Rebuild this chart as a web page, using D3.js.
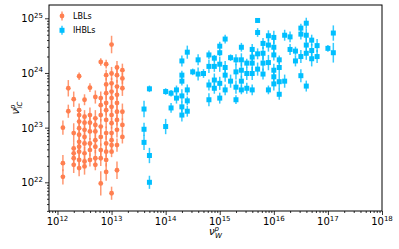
<!DOCTYPE html>
<html>
<head>
<meta charset="utf-8">
<script src="https://cdn.jsdelivr.net/npm/d3@7"></script>
<style>
  body { margin: 0; background: #fff; }
  text { font-family: "DejaVu Sans", sans-serif; }
</style>
</head>
<body>
<div id="chart"></div>
<script>
// values are log10 of the frequencies
var lblLogNuW = [
  12.1, 12.1, 12.1,
  12.2, 12.2,
  12.3, 12.3, 12.3, 12.3, 12.3, 12.3,
  12.4, 12.4, 12.4, 12.4, 12.4, 12.4, 12.4, 12.4, 12.4, 12.4, 12.4,
  12.5, 12.5, 12.5, 12.5, 12.5, 12.5, 12.5, 12.5, 12.5,
  12.6, 12.6, 12.6, 12.6, 12.6, 12.6, 12.6,
  12.7, 12.7, 12.7, 12.7, 12.7, 12.7, 12.7, 12.7,
  12.8, 12.8, 12.8, 12.8, 12.8, 12.8, 12.8, 12.8, 12.8,
  12.9, 12.9, 12.9, 12.9, 12.9, 12.9, 12.9, 12.9, 12.9, 12.9, 12.9, 12.9,
  13.0, 13.0, 13.0, 13.0, 13.0, 13.0, 13.0, 13.0, 13.0, 13.0, 13.0, 13.0, 13.0,
  13.1, 13.1, 13.1, 13.1, 13.1, 13.1, 13.1, 13.1, 13.1, 13.1,
  13.2, 13.2, 13.2, 13.2, 13.2, 13.2
]
var lblLogNuIC = [
  23.00, 22.35, 22.10,
  23.72, 23.30,
  23.52, 22.90, 22.62, 22.53, 22.44, 22.32,
  23.94, 23.32, 23.23, 23.11, 22.99, 22.87, 22.74, 22.65, 22.56, 22.41, 22.26,
  23.51, 23.20, 23.09, 22.96, 22.83, 22.71, 22.53, 22.38, 22.29,
  23.73, 23.23, 23.09, 22.93, 22.71, 22.59, 22.41,
  23.56, 23.17, 23.05, 22.93, 22.77, 22.65, 22.44, 22.32,
  24.20, 23.54, 23.41, 23.23, 23.02, 22.83, 22.59, 22.44, 21.98,
  24.16, 23.96, 23.79, 23.63, 23.45, 23.32, 23.14, 22.90, 22.71, 22.56, 22.41, 22.19,
  24.52, 23.99, 23.81, 23.66, 23.54, 23.38, 23.23, 23.08, 22.90, 22.77, 22.68, 22.56, 21.80,
  24.10, 23.96, 23.75, 23.60, 23.45, 23.29, 23.14, 22.96, 22.68, 22.22,
  24.05, 23.90, 23.72, 23.29, 23.05, 22.83
]
var lblErr = [
  0.13, 0.15, 0.14,
  0.15, 0.12,
  0.14, 0.18, 0.10, 0.10, 0.12, 0.15,
  0.07, 0.12, 0.10, 0.12, 0.15, 0.10, 0.12, 0.10, 0.14, 0.12, 0.15,
  0.10, 0.12, 0.15, 0.12, 0.10, 0.14, 0.12, 0.10, 0.15,
  0.08, 0.14, 0.12, 0.15, 0.10, 0.12, 0.12,
  0.12, 0.15, 0.10, 0.12, 0.14, 0.12, 0.15, 0.10,
  0.07, 0.12, 0.15, 0.12, 0.14, 0.16, 0.12, 0.14, 0.22,
  0.08, 0.10, 0.12, 0.12, 0.14, 0.10, 0.15, 0.12, 0.14, 0.10, 0.12, 0.16,
  0.16, 0.12, 0.10, 0.12, 0.14, 0.12, 0.15, 0.10, 0.12, 0.14, 0.12, 0.10, 0.12,
  0.12, 0.14, 0.12, 0.10, 0.15, 0.12, 0.10, 0.14, 0.12, 0.16,
  0.12, 0.10, 0.14, 0.15, 0.12, 0.12
]

var ihblLogNuW = [
  13.6, 13.6, 13.6,
  13.7, 13.7, 13.7,
  14.0, 14.0,
  14.1, 14.1,
  14.2, 14.2,
  14.3, 14.3, 14.3, 14.3, 14.3, 14.3,
  14.4, 14.4, 14.4, 14.4,
  14.5,
  14.6, 14.6,
  14.7,
  14.8, 14.8, 14.8, 14.8,
  14.9, 14.9, 14.9, 14.9,
  15.0, 15.0, 15.0, 15.0, 15.0,
  15.1, 15.1, 15.1, 15.1,
  15.2, 15.2,
  15.3, 15.3, 15.3, 15.3,
  15.4, 15.4, 15.4, 15.4, 15.4,
  15.5, 15.5, 15.5,
  15.6, 15.6, 15.6, 15.6, 15.6,
  15.7, 15.7, 15.7, 15.7,
  15.8, 15.8, 15.8, 15.8,
  15.9, 15.9, 15.9, 15.9,
  16.0, 16.0, 16.0, 16.0, 16.0, 16.0,
  16.1, 16.1, 16.1, 16.1,
  16.2, 16.2,
  16.3, 16.3,
  16.4, 16.4,
  16.5, 16.5, 16.5, 16.5,
  16.6, 16.6, 16.6, 16.6, 16.6,
  16.7, 16.7, 16.7,
  16.8, 16.8,
  17.0,
  17.1, 17.1
]
var ihblLogNuIC = [
  23.34, 22.97, 22.73,
  23.71, 22.49, 22.00,
  23.66, 23.02,
  23.63, 23.36,
  23.69, 23.54,
  24.22, 23.96, 23.85, 23.58, 23.38, 23.23,
  24.38, 23.69, 23.49, 23.30,
  24.02,
  24.24, 23.98,
  23.99,
  24.33, 24.12, 23.78, 23.51,
  24.27, 24.12, 23.87, 23.72,
  24.49, 24.37, 24.16, 23.81, 23.54,
  24.62, 24.10, 23.96, 23.69,
  24.28, 23.85,
  24.24, 24.02, 23.74, 23.51,
  24.47, 24.24, 24.05, 23.85, 23.69,
  24.18, 23.99, 23.72,
  24.43, 24.29, 24.18, 23.99, 23.69,
  24.96, 24.74, 24.35, 24.07,
  24.54, 24.36, 24.18, 23.98,
  24.68, 24.51, 24.19, 23.69,
  24.65, 24.47, 24.33, 24.05, 23.93, 23.80,
  24.24, 24.10, 23.84, 23.61,
  24.69, 23.85,
  24.66, 24.43,
  24.40, 24.22,
  24.82, 24.71, 24.30, 23.95,
  24.91, 24.69, 24.51, 24.36, 23.76,
  24.60, 24.41, 24.26,
  24.50, 24.30,
  24.45,
  24.73, 24.37
]
var ihblErr = [
  0.15, 0.12, 0.14,
  0.06, 0.14, 0.12,
  0.06, 0.14,
  0.06, 0.09,
  0.08, 0.10,
  0.10, 0.08, 0.08, 0.12, 0.10, 0.12,
  0.12, 0.10, 0.08, 0.10,
  0.06,
  0.10, 0.12,
  0.08,
  0.08, 0.12, 0.10, 0.12,
  0.06, 0.10, 0.12, 0.10,
  0.08, 0.06, 0.14, 0.12, 0.10,
  0.08, 0.12, 0.12, 0.10,
  0.06, 0.12,
  0.10, 0.14, 0.12, 0.08,
  0.08, 0.12, 0.14, 0.10, 0.08,
  0.08, 0.12, 0.10,
  0.10, 0.12, 0.14, 0.12, 0.10,
  0.04, 0.08, 0.10, 0.12,
  0.10, 0.12, 0.14, 0.10,
  0.10, 0.12, 0.14, 0.08,
  0.12, 0.14, 0.10, 0.12, 0.10, 0.12,
  0.08, 0.12, 0.14, 0.10,
  0.10, 0.12,
  0.10, 0.10,
  0.08, 0.10,
  0.08, 0.10, 0.12, 0.12,
  0.10, 0.12, 0.14, 0.12, 0.10,
  0.10, 0.12, 0.14,
  0.12, 0.12,
  0.06,
  0.14, 0.18
]

var xDecades = [12, 13, 14, 15, 16, 17, 18]
var yDecades = [22, 23, 24, 25]

var width = 399,
    height = 249,
    plotL = 49, plotR = 382, plotT = 5, plotB = 211

var svg = d3.select('#chart')
  .append('svg')
  .attr('width', width)
  .attr('height', height)

var x = d3.scaleLog().domain([Math.pow(10, 11.843), 1e18]).range([plotL, plotR])
var y = d3.scaleLog().domain([Math.pow(10, 21.475), Math.pow(10, 25.243)]).range([plotB, plotT])

// minor ticks 2..9 in each decade that fits the domain
function minorTicks(scale, lo, hi) {
  var out = []
  var d = scale.domain()
  for (var e = lo; e <= hi; e++) {
    for (var m = 2; m <= 9; m++) {
      var v = m * Math.pow(10, e)
      if (v > d[0] && v < d[1]) out.push(v)
    }
  }
  return out
}

function drawSeries(lx, ly, err, color, shape) {
  var rows = lx.map(function (v, i) { return { x: Math.pow(10, v), ly: ly[i], e: err[i] } })
  var g = svg.append('g')

  g.selectAll('line.err')
    .data(rows)
    .enter().append('line')
    .attr('x1', function (d) { return x(d.x) })
    .attr('x2', function (d) { return x(d.x) })
    .attr('y1', function (d) { return y(Math.pow(10, d.ly + d.e)) })
    .attr('y2', function (d) { return y(Math.pow(10, d.ly - d.e)) })
    .attr('stroke', color)
    .attr('stroke-width', 1.5)
    .attr('opacity', 0.8)

  if (shape === 'circle') {
    g.selectAll('circle')
      .data(rows)
      .enter().append('circle')
      .attr('cx', function (d) { return x(d.x) })
      .attr('cy', function (d) { return y(Math.pow(10, d.ly)) })
      .attr('r', 2.4)
      .attr('fill', color)
  } else {
    g.selectAll('rect')
      .data(rows)
      .enter().append('rect')
      .attr('x', function (d) { return x(d.x) - 2.5 })
      .attr('y', function (d) { return y(Math.pow(10, d.ly)) - 2.5 })
      .attr('width', 5)
      .attr('height', 5)
      .attr('fill', color)
  }
}

drawSeries(lblLogNuW, lblLogNuIC, lblErr, '#ff7f50', 'circle')
drawSeries(ihblLogNuW, ihblLogNuIC, ihblErr, '#00bfff', 'square')

// axes
var xMajor = xDecades.map(function (e) { return Math.pow(10, e) })
var yMajor = yDecades.map(function (e) { return Math.pow(10, e) })

var gx = svg.append('g').attr('transform', 'translate(0,' + plotB + ')')
gx.call(d3.axisBottom(x).tickValues(xMajor).tickSize(4).tickFormat(''))
gx.append('g').call(d3.axisBottom(x).tickValues(minorTicks(x, 11, 17)).tickSize(2).tickFormat(''))

var gy = svg.append('g').attr('transform', 'translate(' + plotL + ',0)')
gy.call(d3.axisLeft(y).tickValues(yMajor).tickSize(4).tickFormat(''))
gy.append('g').call(d3.axisLeft(y).tickValues(minorTicks(y, 21, 25)).tickSize(2).tickFormat(''))

svg.selectAll('.domain').remove()
svg.selectAll('.tick line').attr('stroke', '#000').attr('stroke-width', 0.8)

// frame
svg.append('rect')
  .attr('x', plotL).attr('y', plotT)
  .attr('width', plotR - plotL).attr('height', plotB - plotT)
  .attr('fill', 'none').attr('stroke', '#000').attr('stroke-width', 1)

function powerLabel(t, e) {
  t.append('tspan').text('10')
  t.append('tspan').attr('font-size', 7).attr('dy', -4.5).text(e)
}

xDecades.forEach(function (e) {
  var t = svg.append('text')
    .attr('x', x(Math.pow(10, e)))
    .attr('y', plotB + 14)
    .attr('text-anchor', 'middle')
    .attr('font-size', 10)
  powerLabel(t, e)
})

yDecades.forEach(function (e) {
  var t = svg.append('text')
    .attr('x', plotL - 6)
    .attr('y', y(Math.pow(10, e)) + 4)
    .attr('text-anchor', 'end')
    .attr('font-size', 10)
  powerLabel(t, e)
})

// axis titles
var xt = svg.append('text')
  .attr('x', (plotL + plotR) / 2)
  .attr('y', 235)
  .attr('text-anchor', 'middle')
  .attr('font-size', 10)
xt.append('tspan').attr('font-style', 'italic').text('ν')
xt.append('tspan').attr('font-style', 'italic').attr('font-size', 7).attr('dy', -4).text('p')
xt.append('tspan').attr('font-style', 'italic').attr('font-size', 7).attr('dx', -4).attr('dy', 6.5).text('W')

var yt = svg.append('text')
  .attr('transform', 'translate(19,' + ((plotT + plotB) / 2) + ')rotate(-90)')
  .attr('text-anchor', 'middle')
  .attr('font-size', 10)
yt.append('tspan').attr('font-style', 'italic').text('ν')
yt.append('tspan').attr('font-style', 'italic').attr('font-size', 7).attr('dy', -4).text('p')
yt.append('tspan').attr('font-style', 'italic').attr('font-size', 7).attr('dx', -4).attr('dy', 6.5).text('IC')

// legend
var legendItems = [
  { label: 'LBLs', color: '#ff7f50', shape: 'circle' },
  { label: 'IHBLs', color: '#00bfff', shape: 'square' }
]
var lg = svg.append('g')
legendItems.forEach(function (it, i) {
  var cy = 16 + i * 14.3
  lg.append('line')
    .attr('x1', 62).attr('x2', 62)
    .attr('y1', cy - 4.5).attr('y2', cy + 4.5)
    .attr('stroke', it.color).attr('stroke-width', 1.5).attr('opacity', 0.8)
  if (it.shape === 'circle') {
    lg.append('circle').attr('cx', 62).attr('cy', cy).attr('r', 2.4).attr('fill', it.color)
  } else {
    lg.append('rect').attr('x', 59.5).attr('y', cy - 2.5).attr('width', 5).attr('height', 5).attr('fill', it.color)
  }
  lg.append('text')
    .attr('x', 73).attr('y', cy + 3)
    .attr('font-size', 8)
    .text(it.label)
})
</script>
</body>
</html>
